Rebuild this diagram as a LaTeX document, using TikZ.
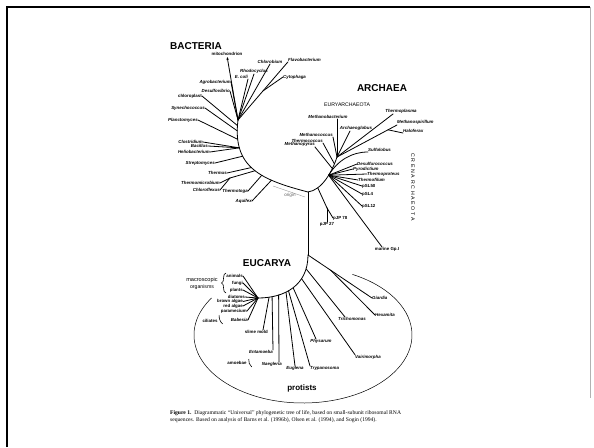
\documentclass[tikz,border=0pt]{standalone}
\usepackage{fontspec}
\setmainfont{Liberation Serif}
\setsansfont{Liberation Sans}
\usetikzlibrary{arrows.meta}

\begin{document}
\begin{tikzpicture}[x=1pt,y=-1pt,
    branch/.style={line width=0.8pt, line cap=round},
    leaf/.style={inner sep=0pt, font=\sffamily\bfseries\itshape\fontsize{4.4}{5}\selectfont},
    plain leaf/.style={inner sep=0pt, font=\sffamily\bfseries\fontsize{4.4}{5}\selectfont},
    kingdom/.style={inner sep=0pt, font=\sffamily\bfseries\fontsize{10}{12}\selectfont},
    phylum/.style={inner sep=0pt, font=\sffamily\fontsize{5.2}{6}\selectfont}
  ]
  \useasboundingbox (0,0) rectangle (594,447);
  \draw[line width=2pt] (7,447) -- (7,7) -- (590,7);
  \draw[gray!60, line width=0.6pt] (590,7) -- (590,398);

  \coordinate (ctr) at (308,192);
  \coordinate (btop) at (238,120);
  \coordinate (atop) at (337,157);
  \coordinate (euk) at (308,255);
  \coordinate (eend) at (258,298);
  \coordinate (jtc) at (230,178);
  \coordinate (jpj) at (327,208);

  \draw[branch] (ctr) .. controls (262,180) and (232,168) ..
    coordinate[pos=0.3] (b1) coordinate[pos=0.4] (b2)
    coordinate[pos=0.48] (b3) coordinate[pos=0.53] (b4)
    coordinate[pos=0.68] (b5) coordinate[pos=0.77] (b6)
    coordinate[pos=0.85] (b7) coordinate[pos=0.92] (b8)
    coordinate[pos=0.96] (b9) (btop);
  \draw[branch] (ctr) .. controls (322,190) and (332,172) ..
    coordinate[pos=0.25] (a1) coordinate[pos=0.6] (a2)
    coordinate[pos=0.75] (a3) coordinate[pos=0.85] (a4) (atop);
  \draw[branch] (ctr) -- (euk);
  \draw[branch] (euk) .. controls (308,285) and (285,298) ..
    coordinate[pos=0.17] (e1) coordinate[pos=0.32] (e2)
    coordinate[pos=0.5] (e3) coordinate[pos=0.58] (e4)
    coordinate[pos=0.62] (e5) coordinate[pos=0.73] (e6)
    coordinate[pos=0.82] (e7) coordinate[pos=0.86] (e8) (eend);

  % bacteria
  \node[kingdom] (bacteria) at (196,46) {BACTERIA};
  \node[plain leaf, anchor=south] (mito) at (227,56) {mitochondrion};
  \node[leaf, anchor=east] (agro) at (231,82) {Agrobacterium};
  \node[leaf, anchor=east] (desulfo) at (230,91) {Desulfovibrio};
  \node[plain leaf, anchor=east] (chloro) at (202,96) {chloroplast};
  \node[leaf, anchor=east] (syn) at (205,108) {Synechococcus};
  \node[leaf, anchor=east] (planc) at (198,120) {Planctomyces};
  \node[leaf, anchor=south east] (ecoli) at (248,79) {E. coli};
  \node[leaf, anchor=south] (rhodo) at (254,74) {Rhodocyclus};
  \node[leaf, anchor=south] (chlorob) at (270,64) {Chlorobium};
  \node[leaf, anchor=west] (flavo) at (288,60) {Flavobacterium};
  \node[leaf, anchor=west] (cyto) at (283,77) {Cytophaga};
  \node[leaf, anchor=east] (clos) at (203,142) {Clostridium};
  \node[leaf, anchor=east] (bacil) at (208,146) {Bacillus};
  \node[leaf, anchor=east] (helio) at (210,152) {Heliobacterium};
  \node[leaf, anchor=east] (strep) at (215,163) {Streptomyces};
  \node[leaf, anchor=east] (thermus) at (227,173) {Thermus};
  \node[leaf, anchor=east] (tmicro) at (220,183) {Thermomicrobium};
  \node[leaf, anchor=east] (cflex) at (220,190) {Chloroflexus};
  \node[leaf, anchor=east] (ttoga) at (248,191) {Thermotoga};
  \node[leaf, anchor=east] (aquifex) at (252,201) {Aquifex};

  \draw[branch, shorten >=1pt, -{Stealth[length=3pt,width=2.4pt]}] (btop) -- (mito.south);
  \draw[branch] (btop) -- (agro.east);
  \draw[branch] (btop) -- (desulfo.east);
  \draw[branch] (btop) -- (ecoli.south east);
  \draw[branch] (btop) -- (rhodo.south);
  \draw[branch] (btop) -- (chlorob.south);
  \draw[branch] (btop) -- coordinate[pos=0.5] (jcy) (flavo.south west);
  \draw[branch] (jcy) -- (cyto.west);
  \draw[branch] (b9) -- (chloro.east);
  \draw[branch] (b8) -- (syn.east);
  \draw[branch] (b7) -- (planc.east);
  \draw[branch] (b6) -- (clos.east);
  \draw[branch] (b6) -- (bacil.east);
  \draw[branch] (b6) -- (helio.east);
  \draw[branch] (b5) -- (strep.east);
  \draw[branch] (b4) -- (thermus.east);
  \draw[branch] (b3) -- (jtc);
  \draw[branch] (jtc) -- (tmicro.east);
  \draw[branch] (jtc) -- (cflex.east);
  \draw[branch] (b2) -- (ttoga.east);
  \draw[branch] (b1) -- (aquifex.east);

  \coordinate (orga) at (273,186);
  \coordinate (orgb) at (305,197);
  \draw[gray!80, line width=0.4pt] (orga) -- (orgb);
  \node[plain leaf, gray!80!black, font=\sffamily\fontsize{4.6}{5}\selectfont] (origin) at (290,195.5) {origin};

  % archaea
  \node[kingdom] (archaea) at (382,88) {ARCHAEA};
  \node[phylum] (eury) at (347,105) {EURYARCHAEOTA};
  \node[leaf, anchor=south] (mbact) at (328,119) {Methanobacterium};
  \node[leaf, anchor=south east] (mcoccus) at (333,137) {Methanococcus};
  \node[leaf, anchor=south east] (tcoccus) at (323,143) {Thermococcus};
  \node[leaf, anchor=south east] (mpyrus) at (315,147) {Methanopyrus};
  \node[leaf, anchor=south] (aglob) at (356,131) {Archaeoglobus};
  \node[leaf, anchor=south] (tplasma) at (401,114) {Thermoplasma};
  \node[leaf, anchor=south west] (mspir) at (397,125) {Methanospirillum};
  \node[leaf, anchor=south west] (halo) at (403,133) {Haloferax};
  \node[leaf, anchor=south west] (sulf) at (368,152) {Sulfolobus};
  \node[leaf, anchor=west] (desulfuro) at (357,164) {Desulfurococcus};
  \node[leaf, anchor=west] (pyro) at (353,169) {Pyrodictium};
  \node[leaf, anchor=west] (tproteus) at (367,174) {Thermoproteus};
  \node[leaf, anchor=west] (tfilum) at (358,180) {Thermofilum};
  \node[plain leaf, anchor=west] (psl50) at (362,186) {pSL50};
  \node[plain leaf, anchor=west] (psl4) at (362,194) {pSL4};
  \node[plain leaf, anchor=west] (psl12) at (362,206) {pSL12};
  \node[plain leaf, anchor=west] (pjp78) at (333,218) {pJP 78};
  \node[plain leaf, anchor=north] (pjp27) at (327,222) {pJP 27};
  \node[plain leaf, anchor=north] (marine) at (387,247) {marine Gp.I};
  \node[phylum, rotate=-90, font=\sffamily\addfontfeature{LetterSpace=33}\fontsize{5.2}{6}\selectfont] (cren) at (413,187) {CRENARCHAEOTA};

  \draw[branch] (atop) -- ([xshift=9pt]mbact.south);
  \draw[branch] (atop) -- (mcoccus.south east);
  \draw[branch] (a4) -- (tcoccus.south east);
  \draw[branch] (a3) -- (mpyrus.south east);
  \draw[branch] (atop) -- ([xshift=-6pt]aglob.south);
  \draw[branch] (atop) -- ([xshift=-8pt]tplasma.south);
  \draw[branch] (atop) -- coordinate[pos=0.85] (jmh) (mspir.south west);
  \draw[branch] (jmh) -- (halo.south west);
  \draw[branch] (a2) .. controls (338,160) and (352,152) .. (sulf.south west);
  \draw[branch] (a2) -- (desulfuro.west);
  \draw[branch] (a2) -- (pyro.west);
  \draw[branch] (a2) -- (tproteus.west);
  \draw[branch] (a2) -- (tfilum.west);
  \draw[branch] (a2) -- (psl50.west);
  \draw[branch] (a2) -- (psl4.west);
  \draw[branch] (a2) -- (psl12.west);
  \draw[branch] (a2) -- ([xshift=-5pt]marine.north);
  \draw[branch] (a1) -- (jpj);
  \draw[branch] (jpj) -- (pjp78.west);
  \draw[branch] (jpj) -- (pjp27.north);

  % eucarya
  \node[kingdom] (eucarya) at (267,263) {EUCARYA};
  \node[leaf, anchor=west] (giardia) at (372,298) {Giardia};
  \node[leaf, anchor=west] (hexa) at (375,315) {Hexamita};
  \node[leaf, anchor=north west] (tricho) at (338,317) {Trichomonas};
  \node[leaf, anchor=west] (vairi) at (355,357) {Vairimorpha};
  \node[leaf, anchor=north] (physarum) at (321,339) {Physarum};
  \node[leaf, anchor=north west] (trypano) at (310,366) {Trypanosoma};
  \node[leaf, anchor=north] (euglena) at (295,366) {Euglena};
  \node[leaf, anchor=north east] (naeg) at (282,362) {Naegleria};
  \node[leaf, anchor=north east] (entam) at (273,350) {Entamoeba};
  \node[plain leaf, anchor=north east] (slime) at (268,330) {slime mold};
  \node[plain leaf, anchor=east] (animals) at (243,276) {animals};
  \node[plain leaf, anchor=east] (fungi) at (243,283) {fungi};
  \node[plain leaf, anchor=east] (plants) at (243,290) {plants};
  \node[plain leaf, anchor=east] (diatoms) at (245,297) {diatoms};
  \node[plain leaf, anchor=east] (brown) at (243,301.5) {brown algae};
  \node[plain leaf, anchor=east] (red) at (243,306) {red algae};
  \node[plain leaf, anchor=east] (param) at (247,311) {paramecium};
  \node[leaf, anchor=east] (babesia) at (248,320) {Babesia};
  \node[plain leaf] (ciliates) at (210,321) {ciliates};
  \node[plain leaf] (amoebae) at (237,363) {amoebae};
  \node[phylum, font=\sffamily\fontsize{5.6}{6}\selectfont] (macro) at (202,280) {macroscopic};
  \node[phylum, font=\sffamily\fontsize{5.2}{6}\selectfont] (organ) at (202,287) {organisms};

  \draw[branch] (euk) -- coordinate[pos=0.35] (jdip) (giardia.west);
  \draw[branch] (jdip) -- (hexa.west);
  \draw[branch] (e1) -- ([xshift=7pt]tricho.north west);
  \draw[branch] (e2) -- (vairi.north west);
  \draw[branch] (e3) -- ([xshift=-5pt]physarum.north);
  \draw[branch] (e4) -- (trypano.north west);
  \draw[branch] (e5) -- (euglena.north);
  \draw[branch] (e6) -- ([xshift=-3pt]naeg.north east);
  \draw[branch] (e7) -- (entam.north east);
  \draw[branch] (e8) -- ([xshift=-5pt]slime.north east);
  \foreach \n in {animals,fungi,plants,diatoms,brown,red,param,babesia}
    \draw[branch] (eend) -- (\n.east);

  \draw[line width=0.6pt] (226,273) .. controls (222,273) and (225,283) .. (221.5,283)
    .. controls (225,283) and (222,293) .. (226,293);
  \draw[line width=0.6pt] ([xshift=1.5pt,yshift=6pt]ciliates.east) to[bend right=25] ([xshift=5pt,yshift=-3pt]ciliates.east);
  \draw[line width=0.6pt] ([xshift=2pt,yshift=4pt]amoebae.east) to[bend right=25] ([xshift=5pt,yshift=-4pt]amoebae.east);

  \draw[line width=0.5pt] (303,335) ++(213:109 and 68)
    arc[start angle=213, end angle=-63, x radius=109, y radius=68];
  \node[inner sep=0pt, font=\sffamily\bfseries\fontsize{8}{9}\selectfont] (protists) at (302,388) {protists};

  \node[anchor=north west, inner sep=0pt, align=left, font=\fontsize{5.6}{7}\selectfont] (caption) at (170,410)
    {\textbf{Figure 1.}\ \ Diagrammatic ``Universal'' phylogenetic tree of life, based on small-subunit ribosomal RNA\\
     sequences. Based on analysis of Barns et al. (1996b), Olsen et al. (1994), and Sogin (1994).};
\end{tikzpicture}
\end{document}
